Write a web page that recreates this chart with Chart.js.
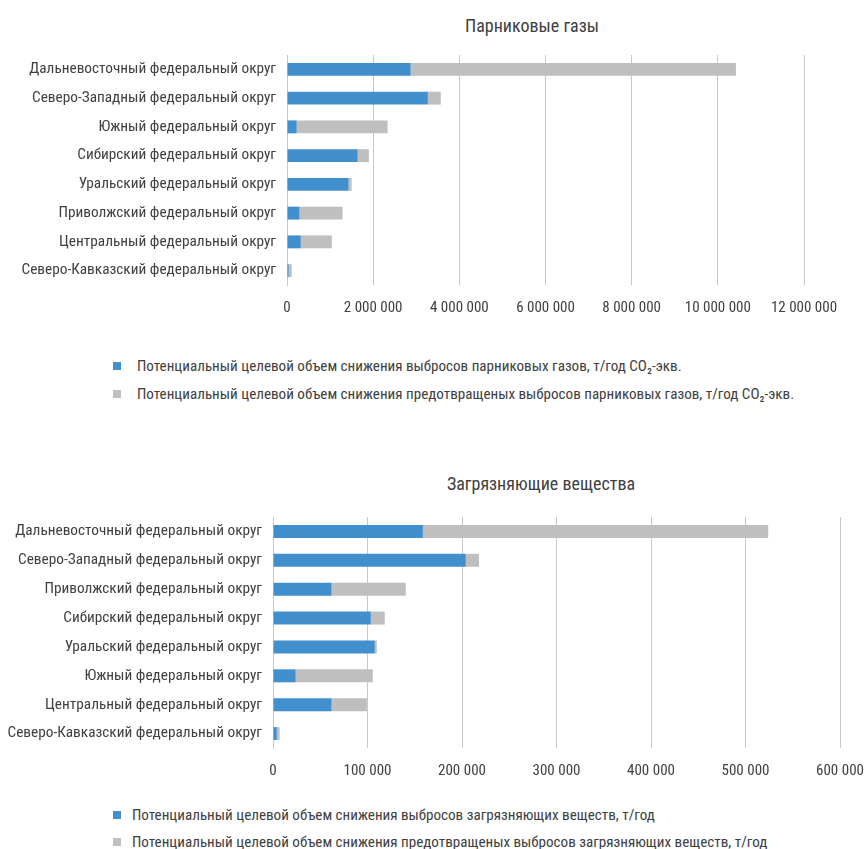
<!DOCTYPE html>
<html>
<head>
    <title>Потенциал снижения выбросов по федеральным округам</title>
    <script src="https://cdn.jsdelivr.net/npm/chart.js"></script>
    <style>
        body {
            margin: 0;
            background: #fff;
            font-family: Roboto, sans-serif;
            font-stretch: condensed;
            color: #404040;
        }
        .page {
            position: relative;
            width: 865px;
            height: 849px;
            overflow: hidden;
        }
        .chart-title {
            position: absolute;
            transform: translate(-50%, -50%);
            font-size: 18px;
            white-space: nowrap;
        }
        canvas {
            position: absolute;
            left: 0;
        }
        .legend {
            position: absolute;
            left: 113px;
            font-size: 15.1px;
        }
        .legend-item {
            display: flex;
            align-items: center;
            white-space: nowrap;
        }
        .legend-box {
            width: 8px;
            height: 8px;
        }
    </style>
</head>
<body>
<div class="page">
    <div class="chart-title" style="left:532px; top:25px">Парниковые газы</div>
    <canvas id="ghgChart" width="865" height="319" style="top:0"></canvas>
    <div class="legend" id="ghgLegend" style="top:352px"></div>

    <div class="chart-title" style="left:541px; top:483px">Загрязняющие вещества</div>
    <canvas id="pollChart" width="865" height="322" style="top:460px"></canvas>
    <div class="legend" id="pollLegend" style="top:801px"></div>
</div>

<script>
    // --- data ---
    var ghgDistricts = [
        'Дальневосточный федеральный округ',
        'Северо-Западный федеральный округ',
        'Южный федеральный округ',
        'Сибирский федеральный округ',
        'Уральский федеральный округ',
        'Приволжский федеральный округ',
        'Центральный федеральный округ',
        'Северо-Кавказский федеральный округ'
    ];
    var ghgReduction = [2870000, 3270000, 225000, 1640000, 1430000, 290000, 320000, 40000];
    var ghgPrevented = [7550000, 300000, 2110000, 260000, 70000, 1000000, 720000, 70000];
    var ghgLabels = [
        'Потенциальный целевой объем снижения выбросов парниковых газов, т/год CO₂-экв.',
        'Потенциальный целевой объем снижения предотвращеных выбросов парниковых газов, т/год CO₂-экв.'
    ];

    var pollDistricts = [
        'Дальневосточный федеральный округ',
        'Северо-Западный федеральный округ',
        'Приволжский федеральный округ',
        'Сибирский федеральный округ',
        'Уральский федеральный округ',
        'Южный федеральный округ',
        'Центральный федеральный округ',
        'Северо-Кавказский федеральный округ'
    ];
    var pollReduction = [158600, 204000, 62000, 103500, 107700, 24000, 62000, 4000];
    var pollPrevented = [365400, 14000, 78500, 14800, 2100, 81600, 37300, 3000];
    var pollLabels = [
        'Потенциальный целевой объем снижения выбросов загрязняющих веществ, т/год',
        'Потенциальный целевой объем снижения предотвращеных выбросов загрязняющих веществ, т/год'
    ];

    var seriesColors = ['#4190cd', '#bfbfbf'];
    var gridColor = '#c8c8c8';
    var textColor = '#404040';

    function formatThousands(v) {
        return String(v).replace(/\B(?=(\d{3})+(?!\d))/g, ' ');
    }

    // html legend, built from the chart datasets
    var htmlLegend = {
        id: 'htmlLegend',
        afterUpdate: function(chart, args, opts) {
            var box = document.getElementById(opts.containerID);
            box.innerHTML = '';
            chart.data.datasets.forEach(function(ds) {
                var item = document.createElement('div');
                item.className = 'legend-item';
                item.style.height = opts.rowHeight + 'px';
                var sq = document.createElement('span');
                sq.className = 'legend-box';
                sq.style.background = ds.backgroundColor;
                sq.style.marginRight = opts.gap + 'px';
                var txt = document.createElement('span');
                txt.textContent = ds.label;
                item.appendChild(sq);
                item.appendChild(txt);
                box.appendChild(item);
            });
        }
    };

    function makeChart(canvasId, legendId, districts, reduction, prevented, labels, maxX, step, area) {
        var ctx = document.getElementById(canvasId).getContext('2d');
        return new Chart(ctx, {
            type: 'bar',
            data: {
                labels: districts,
                datasets: [{
                    label: labels[0],
                    data: reduction,
                    backgroundColor: seriesColors[0],
                    barPercentage: 0.45,
                    categoryPercentage: 1
                }, {
                    label: labels[1],
                    data: prevented,
                    backgroundColor: seriesColors[1],
                    barPercentage: 0.45,
                    categoryPercentage: 1
                }]
            },
            options: {
                indexAxis: 'y',
                responsive: false,
                animation: false,
                layout: {
                    padding: { top: area.top, right: area.right, bottom: 0, left: 0 }
                },
                plugins: {
                    legend: { display: false },
                    title: { display: false },
                    tooltip: { enabled: false },
                    htmlLegend: { containerID: legendId, rowHeight: area.legendRow, gap: area.legendGap }
                },
                scales: {
                    x: {
                        stacked: true,
                        min: 0,
                        max: maxX,
                        afterFit: function(scale) {
                            scale.height = 34;
                            // labels may hang over the edge, keep the plot width fixed
                            scale.paddingLeft = 0;
                            scale.paddingRight = 0;
                        },
                        grid: { color: gridColor, drawTicks: false },
                        border: { display: false },
                        ticks: {
                            stepSize: step,
                            padding: 14,
                            color: textColor,
                            font: { family: 'Roboto', size: 15, weight: 'condensed' },
                            callback: function(v) { return formatThousands(v); }
                        }
                    },
                    y: {
                        stacked: true,
                        afterFit: function(scale) { scale.width = area.left; },
                        grid: { display: false, drawTicks: false },
                        border: { display: true, color: gridColor },
                        ticks: {
                            padding: 11,
                            color: textColor,
                            font: { family: 'Roboto', size: 15.3, weight: 'condensed' }
                        }
                    }
                }
            },
            plugins: [htmlLegend]
        });
    }

    makeChart('ghgChart', 'ghgLegend', ghgDistricts, ghgReduction, ghgPrevented, ghgLabels,
        12000000, 2000000, { top: 55, right: 61, left: 287, legendRow: 28, legendGap: 16 });
    makeChart('pollChart', 'pollLegend', pollDistricts, pollReduction, pollPrevented, pollLabels,
        600000, 100000, { top: 57, right: 25, left: 273, legendRow: 27, legendGap: 11 });
</script>
</body>
</html>
